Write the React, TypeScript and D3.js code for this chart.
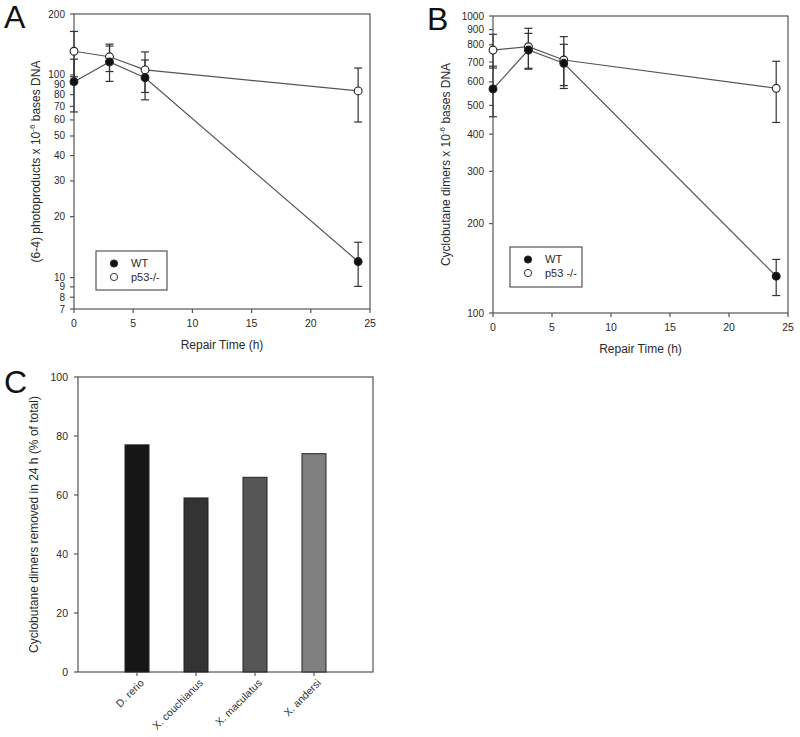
import React from "react";
import * as d3 from "d3";

const times = [0, 3, 6, 24];
// Panel A: (6-4) photoproducts
const aWT = [92.7, 116, 97, 12.0];
const aWTErr = [27, 23, 21.6, 2.95];
const aKO = [131, 123, 106, 83.4];
const aKOErr = [33, 19, 24, 24.8];
const aTicks = [7, 8, 9, 10, 20, 30, 40, 50, 60, 70, 80, 90, 100, 200];
// Panel B: cyclobutane dimers
const bWT = [568, 768, 693, 133];
const bWTErr = [110, 106, 110, 18.5];
const bKO = [768, 788, 711, 571];
const bKOErr = [100, 121, 141, 133];
const bTicks = [100, 200, 300, 400, 500, 600, 700, 800, 900, 1000];
const xTicks = [0, 5, 10, 15, 20, 25];
// Panel C
const species = ["D. rerio", "X. couchianus", "X. maculatus", "X. andersi"];
const removed = [77, 59, 66, 74];
const barColors = ["#161616", "#333333", "#565656", "#808080"];
const cTicks = [0, 20, 40, 60, 80, 100];

const LINE = "#555";
const TEXT = "#2a2a2a";
const FONT = "Liberation Sans, Arial, sans-serif";

type PanelProps = {
  x0: number; x1: number; y0: number; y1: number;
  yDomain: [number, number]; yTicks: number[];
  wt: number[]; wtErr: number[]; ko: number[]; koErr: number[];
  yLabel: string; letter: string; letterX: number;
  legend: { x: number; y: number; w: number; h: number; koLabel: string };
  yLabelX: number;
};

function LinePanel(p: PanelProps) {
  const x = d3.scaleLinear().domain([0, 25]).range([p.x0, p.x1]);
  const y = d3.scaleLog().domain(p.yDomain).range([p.y1, p.y0]);
  const line = d3.line<number>().x((_, i) => x(times[i])).y((v) => y(v));
  const series = [
    { v: p.ko, e: p.koErr, open: true },
    { v: p.wt, e: p.wtErr, open: false },
  ];
  const cy = (p.y0 + p.y1) / 2;
  return (
    <g fontFamily={FONT}>
      <text x={p.letterX} y={p.y0 + 14} fontSize={32} fill="#111">{p.letter}</text>
      <rect x={p.x0} y={p.y0} width={p.x1 - p.x0} height={p.y1 - p.y0} fill="none" stroke={LINE} strokeWidth={1.2} />
      {p.yTicks.map((t) => (
        <g key={t}>
          <line x1={p.x0 - 4} x2={p.x0} y1={y(t)} y2={y(t)} stroke={LINE} strokeWidth={1.2} />
          <text x={p.x0 - 9} y={y(t)} dy="0.35em" textAnchor="end" fontSize={10} fill={TEXT}>{t}</text>
        </g>
      ))}
      {xTicks.map((t) => (
        <g key={t}>
          <line x1={x(t)} x2={x(t)} y1={p.y1} y2={p.y1 + 4} stroke={LINE} strokeWidth={1.2} />
          <text x={x(t)} y={p.y1 + 18} textAnchor="middle" fontSize={10.5} fill={TEXT}>{t}</text>
        </g>
      ))}
      <text x={(p.x0 + p.x1) / 2} y={p.y1 + 40} textAnchor="middle" fontSize={12} fill={TEXT}>Repair Time (h)</text>
      <text transform={`translate(${p.yLabelX},${cy}) rotate(-90)`} textAnchor="middle" fontSize={12} fill={TEXT}>
        {p.yLabel}<tspan fontSize={8} dy={-5}>-6</tspan><tspan dy={5}> bases DNA</tspan>
      </text>
      {series.map((s, si) => (
        <path key={"l" + si} d={line(s.v) || ""} fill="none" stroke={LINE} strokeWidth={1.2} />
      ))}
      {series.map((s, si) =>
        s.v.map((v, i) => (
          <g key={"e" + si + i} stroke="#333" strokeWidth={1.2}>
            <line x1={x(times[i])} x2={x(times[i])} y1={y(v + s.e[i])} y2={y(v - s.e[i])} />
            <line x1={x(times[i]) - 4} x2={x(times[i]) + 4} y1={y(v + s.e[i])} y2={y(v + s.e[i])} />
            <line x1={x(times[i]) - 4} x2={x(times[i]) + 4} y1={y(v - s.e[i])} y2={y(v - s.e[i])} />
          </g>
        ))
      )}
      {series.map((s, si) =>
        s.v.map((v, i) => (
          <circle key={"c" + si + i} cx={x(times[i])} cy={y(v)} r={3.9}
            fill={s.open ? "#fff" : "#111"} stroke="#222" strokeWidth={1.1} />
        ))
      )}
      <g>
        <rect x={p.legend.x} y={p.legend.y} width={p.legend.w} height={p.legend.h} fill="#fff" stroke={LINE} strokeWidth={1.2} />
        <circle cx={p.legend.x + 18} cy={p.legend.y + 12.5} r={3.6} fill="#111" stroke="#222" />
        <circle cx={p.legend.x + 18} cy={p.legend.y + 26} r={3.6} fill="#fff" stroke="#333" />
        <text x={p.legend.x + 35} y={p.legend.y + 12.5} dy="0.35em" fontSize={11} fill={TEXT}>WT</text>
        <text x={p.legend.x + 35} y={p.legend.y + 26} dy="0.35em" fontSize={11} fill={TEXT}>{p.legend.koLabel}</text>
      </g>
    </g>
  );
}

function BarPanel() {
  const x0 = 78, x1 = 373, y0 = 377, y1 = 672;
  const x = d3.scaleLinear().domain([0, species.length + 1]).range([x0, x1]);
  const y = d3.scaleLinear().domain([0, 100]).range([y1, y0]);
  const bw = 24;
  return (
    <g fontFamily={FONT}>
      <text x={4} y={393} fontSize={32} fill="#111">C</text>
      <rect x={x0} y={y0} width={x1 - x0} height={y1 - y0} fill="none" stroke={LINE} strokeWidth={1.2} />
      {cTicks.map((t) => (
        <g key={t}>
          <line x1={x0 - 4} x2={x0} y1={y(t)} y2={y(t)} stroke={LINE} strokeWidth={1.2} />
          <text x={x0 - 10} y={y(t)} dy="0.35em" textAnchor="end" fontSize={10.5} fill={TEXT}>{t}</text>
        </g>
      ))}
      {species.map((s, i) => {
        const cx = x(i + 1);
        return (
          <g key={s}>
            <rect x={cx - bw / 2} y={y(removed[i])} width={bw} height={y(0) - y(removed[i])}
              fill={barColors[i]} stroke="#222" strokeWidth={1} />
            <line x1={cx} x2={cx} y1={y1} y2={y1 + 4} stroke={LINE} strokeWidth={1.2} />
            <text transform={`translate(${cx + 5},${y1 + 9}) rotate(-45)`} textAnchor="end" dy="0.35em" fontSize={10.5} fill="#333">{s}</text>
          </g>
        );
      })}
      <text transform={`translate(38,${(y0 + y1) / 2}) rotate(-90)`} textAnchor="middle" fontSize={12} fill={TEXT}>
        Cyclobutane dimers removed in 24 h (% of total)
      </text>
    </g>
  );
}

export default function App() {
  return (
    <svg width={800} height={737} style={{ position: "absolute", left: 0, top: 0, background: "#fff" }}>
      <rect width={800} height={737} fill="#fff" />
      <LinePanel x0={74} x1={370} y0={14} y1={309} yDomain={[7, 200]} yTicks={aTicks}
        wt={aWT} wtErr={aWTErr} ko={aKO} koErr={aKOErr}
        yLabel="(6-4) photoproducts x 10" letter="A" letterX={4} yLabelX={40}
        legend={{ x: 96, y: 251, w: 71, h: 39, koLabel: "p53-/-" }} />
      <LinePanel x0={493} x1={788} y0={16} y1={313} yDomain={[100, 1000]} yTicks={bTicks}
        wt={bWT} wtErr={bWTErr} ko={bKO} koErr={bKOErr}
        yLabel="Cyclobutane dimers x 10" letter="B" letterX={427} yLabelX={450}
        legend={{ x: 510, y: 247, w: 72, h: 40, koLabel: "p53 -/-" }} />
      <BarPanel />
    </svg>
  );
}
